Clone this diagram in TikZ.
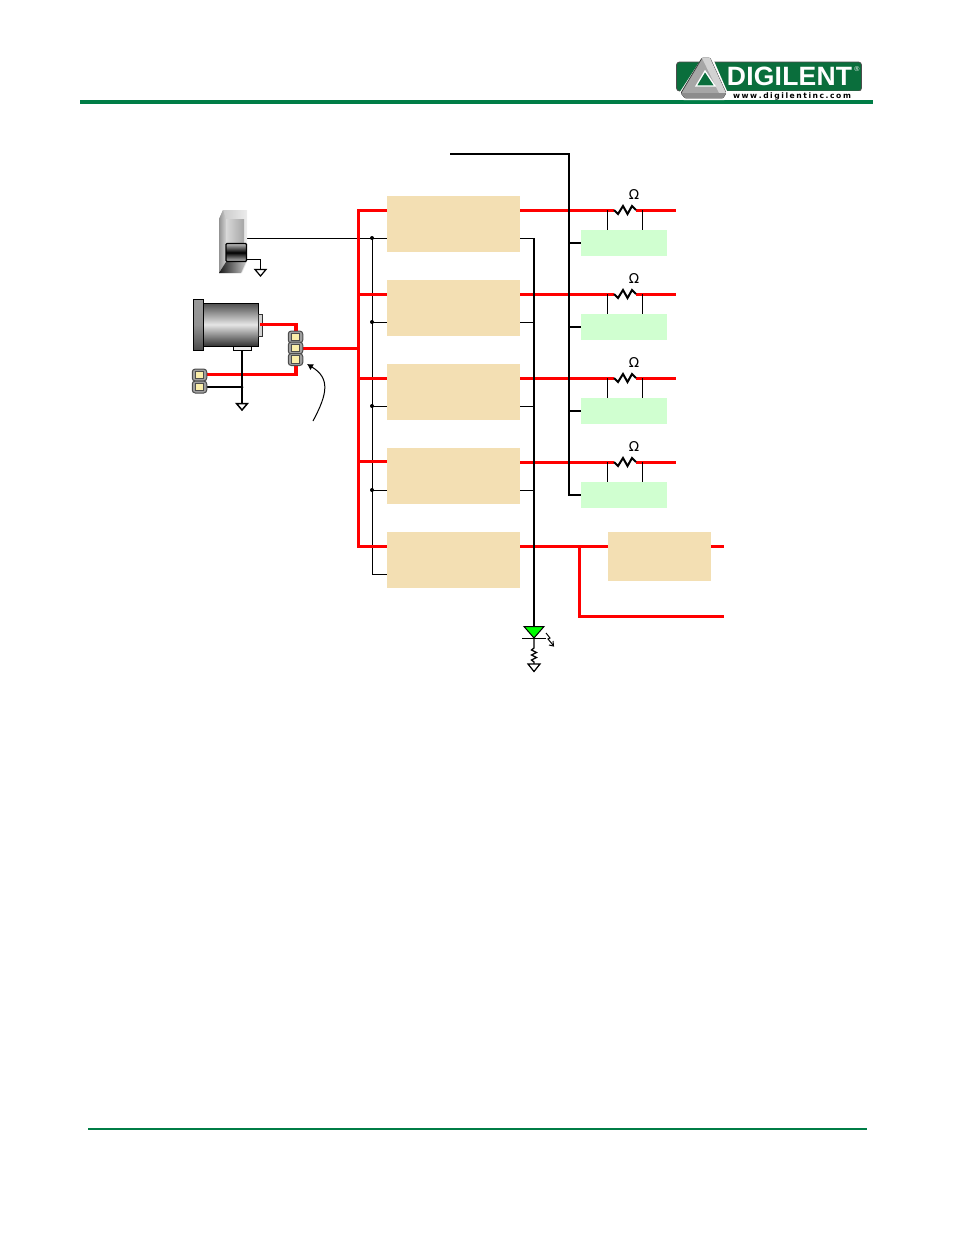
\documentclass[tikz,border=0pt]{standalone}
\usepackage{fontspec}
\setmainfont{Liberation Sans}
\newfontfamily\symfont{DejaVu Sans}
\usetikzlibrary{arrows.meta,positioning,calc}
\definecolor{tanbox}{RGB}{243,223,179}
\definecolor{greenbox}{RGB}{208,255,208}
\definecolor{rulegreen}{RGB}{0,125,70}
\definecolor{logogreen}{RGB}{10,110,60}
\definecolor{pinyellow}{RGB}{250,238,170}
\tikzset{
 tanblock/.style={fill=tanbox,draw=none,inner sep=0,outer sep=0,minimum width=133pt,minimum height=56pt},
 greenblock/.style={fill=greenbox,draw=none,inner sep=0,outer sep=0,minimum width=86pt,minimum height=26pt},
 redwire/.style={red,line width=3.2pt},
 heavy/.style={black,line width=2.1pt},
 thin wire/.style={black,line width=1pt},
 zig/.style={black,line width=2pt,line join=miter},
 gnd/.style={draw=black,fill=white,line width=1.2pt,line join=miter},
 dotnode/.style={circle,fill=black,inner sep=0,minimum size=4pt},
 header pin/.style={rounded corners=3pt,fill=gray!75,draw=gray!60!black,line width=1pt,minimum width=14.5pt,minimum height=12pt,inner sep=0,outer sep=0},
}
\newcommand{\pinsq}[1]{\fill[pinyellow,draw=black!70,line width=.7pt] ($(#1)+(-3.7,-3.7)$) rectangle ($(#1)+(3.7,3.7)$);}
\newcommand{\urlk}{\kern1.55pt}
\begin{document}
\begin{tikzpicture}[x=1pt,y=-1pt]
\useasboundingbox (0,0) rectangle (954,1235);
% rules
\coordinate (hl) at (80,102); \coordinate (hr) at (873,102);
\coordinate (fl) at (88,1129); \coordinate (fr) at (867,1129);
\draw[rulegreen,line width=2pt] (fl) -- (fr);
% logo
\path[fill=logogreen,draw=black!70,line width=.8pt,rounded corners=3pt] (676.5,62) rectangle (861.5,91);
\fill[white] (700,91.4) rectangle (862,99);
\draw[rulegreen,line width=4pt] (hl) -- (hr);
% penrose triangle
\path[fill=white,draw=white,line width=2.4pt,line join=round] (704,57) -- (711,57) -- (727,94) -- (724,99) -- (684,99) -- (680,94) -- cycle;
\path[fill=gray!70,draw=black!75,line width=.8pt,rounded corners=1pt] (702,58) -- (710,58) -- (726,93) -- (723,98) -- (685,98) -- (681,93) -- cycle;
\fill[gray!35] (702,58) -- (710,58) -- (726,93) -- (719,93) -- cycle;
\fill[gray!90] (681,93) -- (726,93) -- (723,98) -- (685,98) -- cycle;
\path[fill=logogreen,draw=white,line width=1.3pt,line join=miter] (705,71) -- (715,86) -- (696,86) -- cycle;
\node[inner sep=0,text=white,font=\bfseries\fontsize{26.5}{26}\selectfont] (logotext) at (789.5,76.5) {D\kern.2pt I\kern.2pt G\kern.2pt I\kern.2pt L\kern.2pt E\kern.2pt N\kern.2pt T};
\node[inner sep=0,text=white,font=\fontsize{7}{7}\selectfont] (reg) at (857,69) {®};
\node[inner sep=0,text=black,font=\symfont\bfseries\fontsize{7.6}{8}\selectfont] (logourl) at (792,96.5) {w\urlk w\urlk w\urlk.\urlk d\urlk i\urlk g\urlk i\urlk l\urlk e\urlk n\urlk t\urlk i\urlk n\urlk c\urlk.\urlk c\urlk o\urlk m};
% blocks
\foreach \n/\y in {a/224,b/308,c/392,d/476,e/560} \node[tanblock] (\n) at (453.5,\y) {};
\foreach \n/\y in {ga/243,gb/327,gc/411,gd/495} \node[greenblock] (\n) at (624,\y) {};
\node[tanblock,minimum width=103pt,minimum height=49pt] (drv) at (659.5,556.5) {};
% connector points
\coordinate (sw) at (247,238);
\coordinate (jcn) at (303,348.5);
\coordinate (busT) at (358.5,210.5); \coordinate (busB) at (358.5,546.5);
\coordinate (thinT) at (372,238); \coordinate (thinB) at (372,574);
% thin left bus
\draw[thin wire] (sw) -- (a.west |- sw);
\draw[thin wire] (thinT) -- (thinB) -- (e.west |- thinB);
\foreach \n/\y in {b/322,c/406,d/490} {
  \draw[thin wire] (372,\y) -- (\n.west |- 0,\y);
  \node[dotnode] (dot\n) at (372,\y) {};
}
\node[dotnode] (dota) at (thinT) {};
% red bus
\draw[redwire,line join=miter] (a.west |- busT) -- (busT) -- (busB) -- (e.west |- busB);
\foreach \n/\y in {b/294.5,c/378.5,d/461.5} \draw[redwire] (358.5,\y) -- (\n.west |- 0,\y);
\draw[redwire] (jcn) -- (358.5,348.5);
% right side red
\foreach \n/\g/\y in {a/ga/210,b/gb/294,c/gc/378,d/gd/462} {
  \draw[redwire] (\n.east |- 0,\y+.5) -- (614,\y+.5);
  \draw[redwire] (636,\y+.5) -- (676,\y+.5);
  \draw[zig] (614,\y) -- (618,\y+4) -- (623,\y-4) -- (627.5,\y+4) -- (632,\y-4) -- (636,\y);
  \node[inner sep=0,font=\symfont\fontsize{13.5}{13}\selectfont] (om\n) at (634,\y-15) {Ω};
  \draw[thin wire] (607,\y) -- (607,\y+20);
  \draw[thin wire] (642,\y) -- (642,\y+20);
}
\draw[redwire] (e.east |- busB) -- (drv.west |- busB);
\draw[redwire] (drv.east |- busB) -- (724,546.5);
\draw[redwire,line join=miter] (579.5,546.5) -- (579.5,616.5) -- (724,616.5);
% heavy sense line
\coordinate (senseStart) at (450,154);
\draw[heavy,line join=miter] (senseStart) -- (569,154) -- (569,495) -- (gd.west);
\draw[heavy] (569,243) -- (ga.west);
\draw[heavy] (569,327) -- (gb.west);
\draw[heavy] (569,411) -- (gc.west);
% LED line
\coordinate (ledTop) at (534,627);
\draw[thin wire] (a.east |- 0,238) -- (534,238);
\draw[heavy] (534,238) -- (ledTop);
\foreach \n/\y in {b/322,c/406,d/490} \draw[thin wire] (\n.east |- 0,\y) -- (534,\y);
% LED
\path[fill=green,draw=black,line width=1pt,line join=miter] (524,626.5) -- (544,626.5) -- (534,638) -- cycle;
\draw[black,line width=1pt] (522,638) -- (546,638);
\draw[black,line width=1.3pt] (534,638) -- (534,648) -- (531.5,650) -- (536.5,652.5) -- (531.5,655) -- (536.5,657.5) -- (531.5,660) -- (534,662) -- (534,664);
\path[gnd] (528,664) -- (540,664) -- (534,671.5) -- cycle;
\draw[black,line width=1pt] (546,633) -- (550,638) -- (548,639) -- (553,645);
\draw[black,line width=1pt] (553,641) -- (553.5,646) -- (549,645);
% switch
\shade[left color=gray!45,right color=gray!15] (219,219) -- (223,210) -- (247,210) -- (247,262) -- (242,273) -- (219,273) -- cycle;
\shade[left color=gray!85,right color=gray!35] (219,219) -- (223,210) -- (226,219) -- (226,262) -- (219,273) -- cycle;
\shade[left color=gray!30,right color=gray!70] (226,219) rectangle (244,243);
\shade[left color=black!90,right color=gray!45] (219,273) -- (226,262) -- (246,262) -- (241,273) -- cycle;
\shade[top color=gray!50,bottom color=gray!50,middle color=black,draw=black,line width=1.1pt,rounded corners=1pt] (226,243.5) rectangle (246.5,261.5);
\coordinate (swg) at (247,259);
\draw[thin wire] (swg) -- (260,259) -- (260,269);
\path[gnd] (255,269.5) -- (266,269.5) -- (260.5,276) -- cycle;
% motor
\shade[top color=gray!80,bottom color=black!70,middle color=gray!85,draw=black,line width=.8pt] (193,299.5) rectangle (203,350);
\shade[top color=black!70,bottom color=black!80,middle color=gray!20,draw=black,line width=1pt] (203,303) rectangle (258.5,346);
\path[fill=gray!35,draw=black!80,line width=.7pt] (258.5,314) rectangle (262,336);
\path[fill=gray!15,draw=black,line width=.6pt] (233,346) rectangle (251,350);
% wires at connectors
\coordinate (mot) at (260,324.5);
\coordinate (j2a) at (207,374.5); \coordinate (j2b) at (207,387);
\draw[redwire,line join=miter] (mot) -- (296,324.5) -- (296,333);
\draw[redwire,line join=miter] (j2a) -- (296,374.5) -- (296,365);
\draw[heavy] (j2b) -- (242,387);
\draw[heavy] (242,350) -- (242,403);
\node[dotnode,minimum size=3pt] (gdot) at (242,387) {};
\path[gnd,line width=1.5pt] (236.5,403.5) -- (247.5,403.5) -- (242,410) -- cycle;
% jumpers
\foreach \n/\y in {p1/337,p2/348,p3/359.5} {\node[header pin] (\n) at (295.5,\y) {}; \pinsq{295.5,\y}}
\foreach \n/\y in {q1/375,q2/387} {\node[header pin] (\n) at (199.5,\y) {}; \pinsq{199.5,\y}}
% callout
\coordinate (callA) at (313,421);
\draw[black,line width=1pt,-{Latex[length=6pt,width=7pt]}] (callA) .. controls (328,393) and (330,378) .. (307,364);
\end{tikzpicture}
\end{document}
